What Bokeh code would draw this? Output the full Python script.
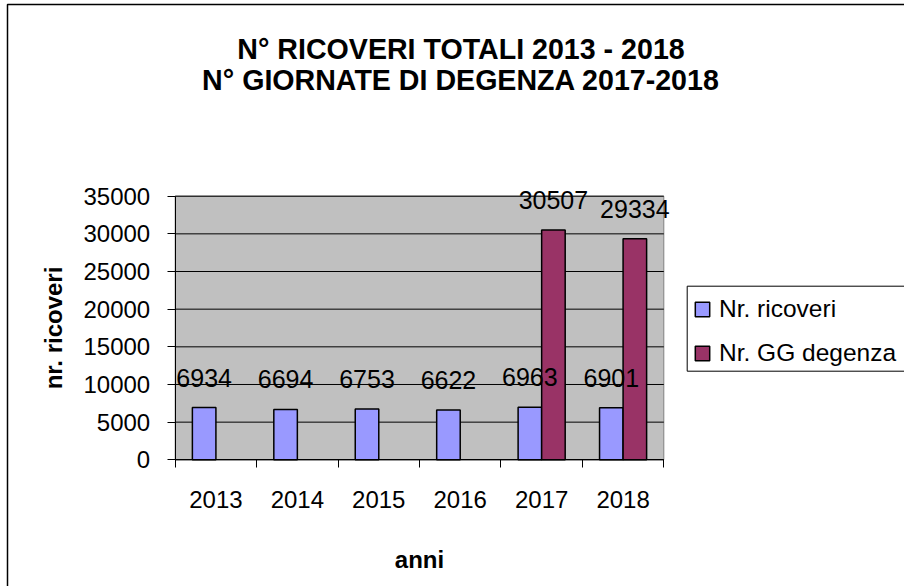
import math
import numpy as np
from bokeh.plotting import figure
from bokeh.models import (ColumnDataSource, Range1d, FixedTicker, LabelSet, Label,
                          Legend, LegendItem, CustomJSTickFormatter, NumeralTickFormatter,
                          BoxAnnotation)
from bokeh.embed import file_html
from bokeh.resources import INLINE
from bokeh.core.properties import value

# ---- data ----
years = ["2013", "2014", "2015", "2016", "2017", "2018"]
ricoveri = [6934, 6694, 6753, 6622, 6963, 6901]
degenza = [None, None, None, None, 30507, 29334]
y_ticks = [0, 5000, 10000, 15000, 20000, 25000, 30000, 35000]
series_names = ["Nr. ricoveri", "Nr. GG degenza"]
title_lines = ["N° RICOVERI TOTALI 2013 - 2018", "N° GIORNATE DI DEGENZA 2017-2018"]
x_title = "anni"
y_title = "nr. ricoveri"

# ---- layout (pixel geometry of the canvas) ----
W, H = 904, 586
N = len(years)
YMAX = 35000
X0, X1 = 174.7, 663.3      # pixel x of category 0 start / last category end
Y0, Y1 = 459.3, 195.7      # pixel y of value 0 / YMAX
XS = (X1 - X0) / N
YS = (Y0 - Y1) / YMAX
FONT = "Liberation Sans"


def dx(px):
    return (px - X0) / XS


def dy(py):
    return (Y0 - py) / YS


p = figure(width=W, height=H,
           x_range=Range1d(dx(0), dx(W)), y_range=Range1d(dy(H), dy(0)),
           output_backend="svg", toolbar_location=None, min_border=0)
p.title.visible = False
p.background_fill_color = "white"
p.border_fill_color = "white"
p.outline_line_color = None
p.xgrid.visible = False
p.ygrid.visible = False

# plot area + gridlines
p.quad(left=[0], right=[N], bottom=[0], top=[YMAX],
       fill_color="#C0C0C0", line_color="#808080", line_width=1)
p.segment(x0=[0] * len(y_ticks), x1=[N] * len(y_ticks), y0=y_ticks, y1=y_ticks,
          line_color="black", line_width=1)

# x axis
xa = p.xaxis[0]
xa.fixed_location = 0
xa.bounds = (0, N)
xa.ticker = FixedTicker(ticks=[i + 0.5 for i in range(N)], minor_ticks=list(range(N + 1)))
xa.formatter = CustomJSTickFormatter(args=dict(labels=years),
                                     code="return labels[Math.floor(tick)] || '';")
xa.major_tick_out = 0
xa.major_tick_in = 0
xa.minor_tick_out = 8
xa.minor_tick_in = 0
xa.minor_tick_line_color = "black"
xa.axis_line_color = "black"
xa.major_label_text_font = FONT
xa.major_label_text_font_size = "24px"
xa.major_label_text_color = "black"
xa.major_label_standoff = 23

# y axis
ya = p.yaxis[0]
ya.fixed_location = 0
ya.bounds = (0, YMAX)
ya.ticker = FixedTicker(ticks=y_ticks, minor_ticks=[])
ya.formatter = NumeralTickFormatter(format="0")
ya.major_tick_out = 8
ya.major_tick_in = 0
ya.minor_tick_out = 0
ya.minor_tick_in = 0
ya.major_tick_line_color = "black"
ya.axis_line_color = "black"
ya.major_label_text_font = FONT
ya.major_label_text_font_size = "24px"
ya.major_label_text_color = "black"
ya.major_label_standoff = 17

# bars
bw = 0.289
idx = np.arange(N)
src1 = ColumnDataSource(dict(x=idx + 0.5 - bw / 2, top=ricoveri,
                             label=[str(v) for v in ricoveri]))
r1 = p.vbar(x="x", top="top", bottom=0, width=bw, source=src1,
            fill_color="#9999FF", line_color="black", line_width=1.5)

deg_idx = [i for i, v in enumerate(degenza) if v is not None]
deg_vals = [degenza[i] for i in deg_idx]
src2 = ColumnDataSource(dict(x=np.array(deg_idx) + 0.5 + bw / 2, top=deg_vals,
                             label=[str(v) for v in deg_vals]))
r2 = p.vbar(x="x", top="top", bottom=0, width=bw, source=src2,
            fill_color="#993366", line_color="black", line_width=1.5)

for src in (src1, src2):
    p.add_layout(LabelSet(x="x", y="top", text="label", source=src,
                          text_align="center", text_baseline="alphabetic", y_offset=21,
                          text_font=value(FONT), text_font_size=value("25px"),
                          text_color="black"))

# titles
title_base = [48.3, 79.3]
for line, by in zip(title_lines, title_base):
    p.add_layout(Label(x=dx(460.5), y=dy(by), text=line, text_align="center",
                       text_baseline="alphabetic", text_font=FONT,
                       text_font_size="28.6px", text_font_style="bold", text_color="black"))

p.add_layout(Label(x=dx(53), y=YMAX / 2, text=y_title, angle=math.pi / 2,
                   text_align="center", text_baseline="middle", text_font=FONT,
                   text_font_size="24px", text_font_style="bold", text_color="black"))
p.add_layout(Label(x=N / 2, y=dy(559.3), text=x_title, text_align="center",
                   text_baseline="alphabetic", text_font=FONT,
                   text_font_size="24px", text_font_style="bold", text_color="black"))

# legend frame (runs past the right edge, as in the reference)
p.add_layout(BoxAnnotation(left=dx(686.7), right=dx(W + 40), top=dy(285.7), bottom=dy(370.7),
                           fill_color="white", fill_alpha=1.0, line_color="black",
                           line_alpha=1.0, line_width=1))

legend = Legend(items=[LegendItem(label=series_names[0], renderers=[r1]),
                       LegendItem(label=series_names[1], renderers=[r2])],
                location=(693.0, H - 367.7), orientation="vertical",
                border_line_color=None, background_fill_alpha=0.0,
                padding=6, spacing=14, margin=0,
                label_height=30,
                glyph_height=18, glyph_width=18, label_standoff=8,
                label_text_font=FONT, label_text_font_size="24.5px",
                label_text_color="black")
p.add_layout(legend)

# chart-area border
p.add_layout(BoxAnnotation(left=dx(7), top=dy(4), right=dx(W + 50), bottom=dy(H + 50),
                           fill_color=None, fill_alpha=0, line_color="black",
                           line_alpha=1.0, line_width=1.5))

open("out.html", "w").write(file_html(p, INLINE))
